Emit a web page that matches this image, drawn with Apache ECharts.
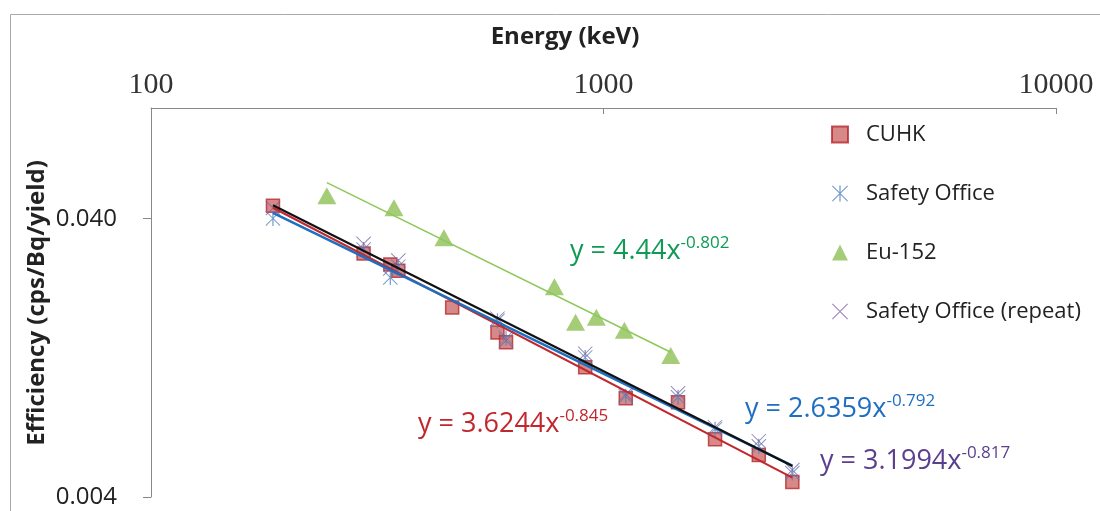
<!DOCTYPE html>
<html><head><meta charset="utf-8">
<script src="https://cdn.jsdelivr.net/npm/echarts@6/dist/echarts.min.js"></script>
<style>html,body{margin:0;padding:0;background:#fff}#c{width:1100px;height:511px}</style>
</head><body><div id="c"></div>
<script>
// ---- data ----
const cuhkEnergy = [186, 295, 338, 352, 463, 583, 609, 911, 1120, 1461, 1764, 2204, 2614];
const cuhkEff = [0.0445, 0.0300, 0.0274, 0.0260, 0.0192, 0.0156, 0.0144, 0.0117, 0.00906, 0.00876, 0.00645, 0.00566, 0.00453];
const safetyEnergy = [186, 295, 338, 352, 583, 609, 911, 1120, 1461, 1764, 2204, 2614];
const safetyEff = [0.0401, 0.0310, 0.0246, 0.0269, 0.0172, 0.0149, 0.0127, 0.00920, 0.00913, 0.00701, 0.00609, 0.00488];
const repeatEnergy = [186, 295, 338, 352, 583, 609, 911, 1120, 1461, 1764, 2204, 2614];
const repeatEff = [0.0437, 0.0325, 0.0265, 0.0283, 0.0175, 0.0146, 0.0131, 0.00936, 0.00944, 0.00713, 0.00635, 0.00500];
const euEnergy = [244.7, 344.3, 444, 778.9, 867.4, 964, 1112, 1408];
const euEff = [0.0484, 0.0438, 0.0342, 0.0228, 0.0170, 0.0177, 0.0159, 0.0129];
const xTicks = [100, 1000, 10000];
const yTicks = [0.004, 0.04];
// power-law trendlines y = a * x^b as printed on the chart
const trendNames = ['CUHK fit', 'Safety Office fit', 'Eu-152 fit', 'Repeat fit'];
const trendA = [3.6244, 2.6359, 4.44, 3.1994];
const trendB = [-0.845, -0.792, -0.802, -0.817];
const trendLabels = ['y = 3.6244x', 'y = 2.6359x', 'y = 4.44x', 'y = 3.1994x'];
const trendExpLabels = ['-0.845', '-0.792', '-0.802', '-0.817'];

const pairs = (xs, ys) => xs.map((x, i) => [x, ys[i]]);
const trendRange = [cuhkEnergy, safetyEnergy, euEnergy, repeatEnergy];
const trendData = trendA.map((a, i) => {
  const xs = trendRange[i];
  const lo = Math.min(...xs), hi = Math.max(...xs);
  return [[lo, a * Math.pow(lo, trendB[i])], [hi, a * Math.pow(hi, trendB[i])]];
});

const FONT = '"Open Sans", "Noto Sans", sans-serif';
const asterisk = 'path://M9.2,0 L10.8,0 L10.8,20 L9.2,20 Z M0.9,0 L20,19.1 L19.1,20 L0,0.9 Z M19.1,0 L20,0.9 L0.9,20 L0,19.1 Z';
const cross = 'path://M0.9,0 L20,19.1 L19.1,20 L0,0.9 Z M19.1,0 L20,0.9 L0.9,20 L0,19.1 Z';

const lineColors = ['#c0282d', '#1f6fc0', '#8cc85a', '#111111'];
const lineWidths = [2, 2.5, 1.5, 2.2];
const eqColors = ['#c0282d', '#1f6fc0', '#109a55', '#5b3f8f'];
const eqPos = [[418, 408], [745, 393], [570, 235], [820, 445]];

const chart = echarts.init(document.getElementById('c'));
const option = {
  animation: false,
  backgroundColor: '#fff',
  grid: { left: 151, right: 44, top: 108, bottom: 14, containLabel: false, outerBoundsMode: 'none' },
  xAxis: {
    type: 'log', logBase: 10, min: 100, max: 10000, position: 'top',
    axisLine: { show: true, lineStyle: { color: '#888', width: 1 } },
    axisTick: { show: true, inside: true, length: 6, lineStyle: { color: '#888' }, customValues: xTicks },
    axisLabel: { customValues: xTicks, formatter: v => String(Math.round(v)), fontFamily: '"Liberation Serif", serif', fontSize: 30, color: '#333', margin: 8, showMinLabel: true, showMaxLabel: true },
    splitLine: { show: false }, minorTick: { show: false }
  },
  yAxis: {
    type: 'log', logBase: 10, min: 0.004, max: 0.1,
    axisLine: { show: true, lineStyle: { color: '#888', width: 1 } },
    axisTick: { show: true, inside: false, length: 8, lineStyle: { color: '#888' }, customValues: yTicks },
    axisLabel: { customValues: yTicks, formatter: v => Number(v).toFixed(3), fontFamily: FONT, fontSize: 24, color: '#222', margin: 34, showMinLabel: true, showMaxLabel: true },
    splitLine: { show: false }
  },
  legend: {
    orient: 'vertical', left: 826, top: 118, itemGap: 36, itemWidth: 16, itemHeight: 16,
    data: [
      { name: 'CUHK' }, { name: 'Safety Office' }, { name: 'Eu-152' }, { name: 'Safety Office (repeat)' }
    ],
    textStyle: { fontFamily: FONT, fontSize: 22, color: '#222', lineHeight: 23, padding: [0, 0, 0, 13] },
    selectedMode: false
  },
  series: [
    { name: 'CUHK', type: 'scatter', data: pairs(cuhkEnergy, cuhkEff), symbol: 'rect', symbolSize: 13,
      itemStyle: { color: 'rgba(200,90,90,0.9)', borderColor: '#b8282a', borderWidth: 1.5 }, z: 2 },
    { name: 'Safety Office', type: 'scatter', data: pairs(safetyEnergy, safetyEff), symbol: asterisk, symbolSize: 15,
      itemStyle: { color: '#4f81bd' }, z: 3 },
    { name: 'Eu-152', type: 'scatter', data: pairs(euEnergy, euEff), symbol: 'triangle', symbolSize: [19, 17],
      itemStyle: { color: '#8fbf55' }, z: 2 },
    { name: 'Safety Office (repeat)', type: 'scatter', data: pairs(repeatEnergy, repeatEff), symbol: cross, symbolSize: 15,
      itemStyle: { color: '#8064a2' }, z: 3 },
    ...trendNames.map((n, i) => ({
      name: n, type: 'line', data: trendData[i], showSymbol: false, symbol: 'none', silent: true,
      lineStyle: { color: lineColors[i], width: lineWidths[i] }, z: 5
    }))
  ],
  graphic: [
    { type: 'rect', left: 8, top: 12, shape: { width: 1100, height: 600 }, style: { fill: 'none', stroke: '#aaa', lineWidth: 1 }, silent: true },
    { type: 'text', x: 565, y: 37, style: { text: 'Energy (keV)', fontFamily: FONT, fontWeight: 'bold', fontSize: 24, fill: '#222', align: 'center', verticalAlign: 'middle' } },
    { type: 'text', x: 37, y: 303, rotation: Math.PI / 2,
      style: { text: 'Efficiency (cps/Bq/yield)', fontFamily: FONT, fontWeight: 'bold', fontSize: 24, fill: '#222', align: 'center', verticalAlign: 'middle' } },
    ...trendLabels.map((t, i) => ({
      type: 'text', left: eqPos[i][0], top: eqPos[i][1],
      style: {
        text: '{m|' + t + '}{s|' + trendExpLabels[i] + '}',
        rich: {
          m: { fontFamily: FONT, fontSize: 27, lineHeight: 33, fill: eqColors[i] },
          s: { fontFamily: FONT, fontSize: 17, lineHeight: 17, verticalAlign: 'top', fill: eqColors[i] }
        }
      }
    }))
  ]
};
chart.setOption(option);
</script></body></html>
